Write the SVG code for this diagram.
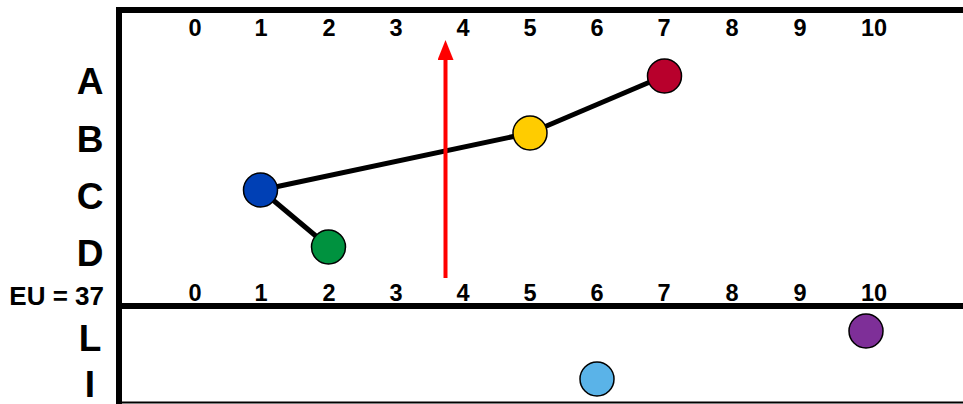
<svg xmlns="http://www.w3.org/2000/svg" width="963" height="404" viewBox="0 0 963 404">
<style>
.ax{stroke:#000;stroke-width:6;fill:none}
.num{font-family:"Liberation Sans",Arial,sans-serif;font-weight:bold;font-size:23.5px;text-anchor:middle;fill:#000}
.row{font-family:"Liberation Sans",Arial,sans-serif;font-weight:bold;font-size:37px;text-anchor:middle;fill:#000}
.edge{stroke:#000;stroke-width:5;fill:none}
.node{stroke:#000;stroke-width:1.5}
</style>
<defs>
<marker id="ah" markerWidth="20" markerHeight="16" refX="10" refY="8" orient="auto" markerUnits="userSpaceOnUse">
<path d="M0,0 L20,8 L0,16 Z" fill="#ff0000"/>
</marker>
</defs>
<rect width="963" height="404" fill="#fff"/>
<g id="frame">
<line class="ax" x1="119" y1="7" x2="119" y2="404"/>
<line class="ax" x1="116" y1="10" x2="963" y2="10"/>
<line class="ax" x1="116" y1="306" x2="963" y2="306"/>
<line x1="119" y1="402.5" x2="963" y2="402.5" stroke="#000" stroke-width="2"/>
</g>
<g id="top-axis">
<text class="num" x="195" y="35.5">0</text>
<text class="num" x="261" y="35.5">1</text>
<text class="num" x="329" y="35.5">2</text>
<text class="num" x="396" y="35.5">3</text>
<text class="num" x="463" y="35.5">4</text>
<text class="num" x="530" y="35.5">5</text>
<text class="num" x="597" y="35.5">6</text>
<text class="num" x="664" y="35.5">7</text>
<text class="num" x="732" y="35.5">8</text>
<text class="num" x="800" y="35.5">9</text>
<text class="num" x="874" y="35.5">10</text>
</g>
<g id="bottom-axis">
<text class="num" x="195" y="300.5">0</text>
<text class="num" x="261" y="300.5">1</text>
<text class="num" x="329" y="300.5">2</text>
<text class="num" x="396" y="300.5">3</text>
<text class="num" x="463" y="300.5">4</text>
<text class="num" x="530" y="300.5">5</text>
<text class="num" x="597" y="300.5">6</text>
<text class="num" x="664" y="300.5">7</text>
<text class="num" x="732" y="300.5">8</text>
<text class="num" x="800" y="300.5">9</text>
<text class="num" x="874" y="300.5">10</text>
</g>
<g id="rows">
<text class="row" x="90" y="94">A</text>
<text class="row" x="90" y="152">B</text>
<text class="row" x="90" y="209">C</text>
<text class="row" x="90" y="266">D</text>
<text class="row" x="90" y="351">L</text>
<text class="row" x="90" y="397">I</text>
<text x="104" y="305" font-family="Liberation Sans,Arial,sans-serif" font-weight="bold" font-size="26" text-anchor="end">EU = 37</text>
</g>
<g id="connectors">
<line class="edge" x1="261" y1="190" x2="530" y2="133"/>
<line class="edge" x1="530" y1="133" x2="664" y2="76"/>
<line class="edge" x1="261" y1="190" x2="329" y2="247"/>
<line x1="445.5" y1="278" x2="445.5" y2="50" stroke="#ff0000" stroke-width="4" marker-end="url(#ah)"/>
</g>
<g id="node-red"><circle class="node" cx="664.5" cy="76" r="17" fill="#B8002C"/></g>
<g id="node-yellow"><circle class="node" cx="530" cy="133" r="17" fill="#FFCC00"/></g>
<g id="node-blue"><circle class="node" cx="260.5" cy="190" r="17" fill="#0040B5"/></g>
<g id="node-green"><circle class="node" cx="328.5" cy="247" r="17" fill="#00923F"/></g>
<g id="node-purple"><circle class="node" cx="866" cy="331" r="17" fill="#7E2F98"/></g>
<g id="node-lightblue"><circle class="node" cx="597" cy="379" r="17" fill="#5AB3E8"/></g>
</svg>
